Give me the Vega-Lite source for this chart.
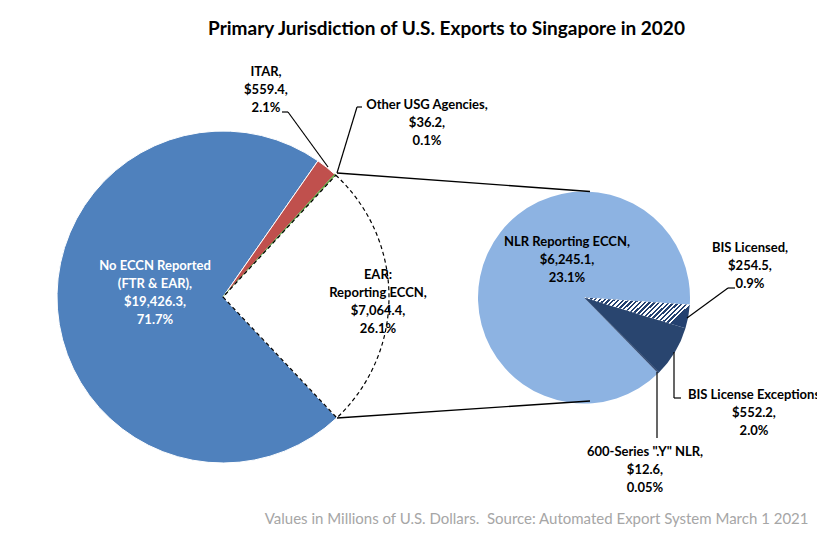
{
  "$schema": "https://vega.github.io/schema/vega-lite/v6.json",
  "width": 817,
  "height": 449,
  "autosize": "none",
  "padding": {"left": 0, "right": 0, "top": 48, "bottom": 40},
  "background": "white",
  "config": {"view": {"stroke": null}, "font": "Lato"},
  "title": {"text": "Primary Jurisdiction of U.S. Exports to Singapore in 2020", "font": "Lato", "fontSize": 19, "fontWeight": "bold", "color": "#000000", "anchor": "middle", "dx": 38, "offset": 9},
  "data": {"values": [
    {"pie": "main", "name": "No ECCN Reported", "value": 19426.3, "k": 1, "label": "No ECCN Reported\n(FTR & EAR),\n$19,426.3,\n71.7%"},
    {"pie": "main", "name": "ITAR", "value": 559.4, "k": 2, "label": "ITAR,\n$559.4,\n2.1%"},
    {"pie": "main", "name": "Other USG Agencies", "value": 36.2, "k": 3, "label": "Other USG Agencies,\n$36.2,\n0.1%"},
    {"pie": "main", "name": "EAR", "value": 7064.4, "k": 4, "breakout": "detail", "label": "EAR:\nReporting ECCN,\n$7,064.4,\n26.1%"},
    {"pie": "detail", "name": "NLR Reporting ECCN", "value": 6245.1, "k": 1, "label": "NLR Reporting ECCN,\n$6,245.1,\n23.1%"},
    {"pie": "detail", "name": "BIS Licensed", "value": 254.5, "k": 2, "label": "BIS Licensed,\n$254.5,\n0.9%"},
    {"pie": "detail", "name": "BIS License Exceptions", "value": 552.2, "k": 3, "label": "BIS License Exceptions\n$552.2,\n2.0%"},
    {"pie": "detail", "name": "600-Series \".Y\" NLR", "value": 12.6, "k": 4, "label": "600-Series \".Y\" NLR,\n$12.6,\n0.05%"}
  ]},
  "transform": [
    {"stack": "value", "groupby": ["pie"], "sort": [{"field": "k", "order": "ascending"}], "offset": "normalize", "as": ["t0", "t1"]}
  ],
  "encoding": {
    "x": {"field": "pie", "type": "nominal", "scale": {"type": "point", "domain": ["main", "detail"], "range": [223, 584], "padding": 0},
      "axis": {"title": "Values in Millions of U.S. Dollars.\u00a0 Source: Automated Export System March 1 2021", "labels": false, "ticks": false, "domain": false, "grid": false, "titleFont": "Lato", "titleFontSize": 15, "titleFontWeight": "normal", "titleColor": "#a6a6a6", "titleAlign": "right", "titleAnchor": "end", "titleX": 808, "titleY": 21, "titleBaseline": "middle"}},
    "y": {"field": "pie", "type": "nominal", "scale": {"type": "point", "domain": ["main", "detail"], "range": [249, 249.5], "padding": 0}, "axis": null}
  },
  "layer": [
    {
      "transform": [{"filter": "datum.pie === 'main' && datum.name !== 'EAR'"}],
      "mark": {"type": "arc", "outerRadius": 166, "strokeWidth": 1},
      "encoding": {
        "theta": {"field": "t0", "type": "quantitative", "scale": {"domain": [0, 1], "range": [2.386, 8.669]}},
        "theta2": {"field": "t1"},
        "color": {"field": "name", "type": "nominal", "legend": null,
          "scale": {"domain": ["No ECCN Reported", "ITAR", "Other USG Agencies", "EAR", "NLR Reporting ECCN", "BIS Licensed", "BIS License Exceptions", "600-Series \".Y\" NLR"],
                    "range": ["#4f81bd", "#c0504d", "#9bbb59", "#ffffff", "#8db3e2", "#ffffff", "#29456f", "#1f3864"]}},
        "stroke": {"condition": {"test": "datum.name === 'Other USG Agencies'", "value": "#4e9a3a"}, "value": "#ffffff"}
      }
    },
    {
      "transform": [{"filter": "datum.name === 'EAR'"}],
      "mark": {"type": "arc", "outerRadius": 166, "fill": "#ffffff", "stroke": "#000000", "strokeWidth": 1.2, "strokeDash": [4, 3]},
      "encoding": {
        "theta": {"field": "t0", "type": "quantitative", "scale": {"domain": [0, 1], "range": [2.386, 8.669]}},
        "theta2": {"field": "t1"}
      }
    },
    {
      "transform": [{"filter": "datum.pie === 'detail'"}],
      "mark": {"type": "arc", "outerRadius": 106},
      "encoding": {
        "theta": {"field": "t0", "type": "quantitative", "scale": {"domain": [0, 1], "range": [2.367, 8.650]}},
        "theta2": {"field": "t1"},
        "color": {"field": "name", "type": "nominal", "legend": null}
      }
    },
    {
      "transform": [{"filter": "datum.name === 'BIS Licensed'"}],
      "mark": {"type": "arc", "outerRadius": 106,
        "fill": {"gradient": "linear", "x1": 0, "y1": 0, "x2": 1, "y2": 0.3, "stops": [
          {"offset": 0, "color": "#ffffff"}, {"offset": 0.0208, "color": "#ffffff"},
          {"offset": 0.0208, "color": "#244170"}, {"offset": 0.0417, "color": "#244170"},
          {"offset": 0.0417, "color": "#ffffff"}, {"offset": 0.0625, "color": "#ffffff"},
          {"offset": 0.0625, "color": "#244170"}, {"offset": 0.0833, "color": "#244170"},
          {"offset": 0.0833, "color": "#ffffff"}, {"offset": 0.1042, "color": "#ffffff"},
          {"offset": 0.1042, "color": "#244170"}, {"offset": 0.125, "color": "#244170"},
          {"offset": 0.125, "color": "#ffffff"}, {"offset": 0.1458, "color": "#ffffff"},
          {"offset": 0.1458, "color": "#244170"}, {"offset": 0.1667, "color": "#244170"},
          {"offset": 0.1667, "color": "#ffffff"}, {"offset": 0.1875, "color": "#ffffff"},
          {"offset": 0.1875, "color": "#244170"}, {"offset": 0.2083, "color": "#244170"},
          {"offset": 0.2083, "color": "#ffffff"}, {"offset": 0.2292, "color": "#ffffff"},
          {"offset": 0.2292, "color": "#244170"}, {"offset": 0.25, "color": "#244170"},
          {"offset": 0.25, "color": "#ffffff"}, {"offset": 0.2708, "color": "#ffffff"},
          {"offset": 0.2708, "color": "#244170"}, {"offset": 0.2917, "color": "#244170"},
          {"offset": 0.2917, "color": "#ffffff"}, {"offset": 0.3125, "color": "#ffffff"},
          {"offset": 0.3125, "color": "#244170"}, {"offset": 0.3333, "color": "#244170"},
          {"offset": 0.3333, "color": "#ffffff"}, {"offset": 0.3542, "color": "#ffffff"},
          {"offset": 0.3542, "color": "#244170"}, {"offset": 0.375, "color": "#244170"},
          {"offset": 0.375, "color": "#ffffff"}, {"offset": 0.3958, "color": "#ffffff"},
          {"offset": 0.3958, "color": "#244170"}, {"offset": 0.4167, "color": "#244170"},
          {"offset": 0.4167, "color": "#ffffff"}, {"offset": 0.4375, "color": "#ffffff"},
          {"offset": 0.4375, "color": "#244170"}, {"offset": 0.4583, "color": "#244170"},
          {"offset": 0.4583, "color": "#ffffff"}, {"offset": 0.4792, "color": "#ffffff"},
          {"offset": 0.4792, "color": "#244170"}, {"offset": 0.5, "color": "#244170"},
          {"offset": 0.5, "color": "#ffffff"}, {"offset": 0.5208, "color": "#ffffff"},
          {"offset": 0.5208, "color": "#244170"}, {"offset": 0.5417, "color": "#244170"},
          {"offset": 0.5417, "color": "#ffffff"}, {"offset": 0.5625, "color": "#ffffff"},
          {"offset": 0.5625, "color": "#244170"}, {"offset": 0.5833, "color": "#244170"},
          {"offset": 0.5833, "color": "#ffffff"}, {"offset": 0.6042, "color": "#ffffff"},
          {"offset": 0.6042, "color": "#244170"}, {"offset": 0.625, "color": "#244170"},
          {"offset": 0.625, "color": "#ffffff"}, {"offset": 0.6458, "color": "#ffffff"},
          {"offset": 0.6458, "color": "#244170"}, {"offset": 0.6667, "color": "#244170"},
          {"offset": 0.6667, "color": "#ffffff"}, {"offset": 0.6875, "color": "#ffffff"},
          {"offset": 0.6875, "color": "#244170"}, {"offset": 0.7083, "color": "#244170"},
          {"offset": 0.7083, "color": "#ffffff"}, {"offset": 0.7292, "color": "#ffffff"},
          {"offset": 0.7292, "color": "#244170"}, {"offset": 0.75, "color": "#244170"},
          {"offset": 0.75, "color": "#ffffff"}, {"offset": 0.7708, "color": "#ffffff"},
          {"offset": 0.7708, "color": "#244170"}, {"offset": 0.7917, "color": "#244170"},
          {"offset": 0.7917, "color": "#ffffff"}, {"offset": 0.8125, "color": "#ffffff"},
          {"offset": 0.8125, "color": "#244170"}, {"offset": 0.8333, "color": "#244170"},
          {"offset": 0.8333, "color": "#ffffff"}, {"offset": 0.8542, "color": "#ffffff"},
          {"offset": 0.8542, "color": "#244170"}, {"offset": 0.875, "color": "#244170"},
          {"offset": 0.875, "color": "#ffffff"}, {"offset": 0.8958, "color": "#ffffff"},
          {"offset": 0.8958, "color": "#244170"}, {"offset": 0.9167, "color": "#244170"},
          {"offset": 0.9167, "color": "#ffffff"}, {"offset": 0.9375, "color": "#ffffff"},
          {"offset": 0.9375, "color": "#244170"}, {"offset": 0.9583, "color": "#244170"},
          {"offset": 0.9583, "color": "#ffffff"}, {"offset": 0.9792, "color": "#ffffff"},
          {"offset": 0.9792, "color": "#244170"}, {"offset": 1, "color": "#244170"}
        ]}},
      "encoding": {
        "theta": {"field": "t0", "type": "quantitative", "scale": {"domain": [0, 1], "range": [2.367, 8.650]}},
        "theta2": {"field": "t1"}
      }
    },
    {
      "transform": [{"filter": "datum.name === 'EAR'"}],
      "mark": {"type": "rule", "color": "#000000", "strokeWidth": 1.3, "xOffset": 114, "yOffset": -124, "x2Offset": 6, "y2Offset": -106},
      "encoding": {"x2": {"field": "breakout"}, "y2": {"field": "breakout"}}
    },
    {
      "transform": [{"filter": "datum.name === 'EAR'"}],
      "mark": {"type": "rule", "color": "#000000", "strokeWidth": 1.3, "xOffset": 114, "yOffset": 121, "x2Offset": 6, "y2Offset": 103.5},
      "encoding": {"x2": {"field": "breakout"}, "y2": {"field": "breakout"}}
    },
    {
      "transform": [{"filter": "datum.name === 'ITAR'"}],
      "mark": {"type": "rule", "color": "#000000", "strokeWidth": 1.2, "xOffset": 59, "yOffset": -185, "x2Offset": 65, "y2Offset": -185},
      "encoding": {"x2": {"field": "pie"}, "y2": {"field": "pie"}}
    },
    {
      "transform": [{"filter": "datum.name === 'ITAR'"}],
      "mark": {"type": "rule", "color": "#000000", "strokeWidth": 1.2, "xOffset": 65, "yOffset": -185, "x2Offset": 105, "y2Offset": -130},
      "encoding": {"x2": {"field": "pie"}, "y2": {"field": "pie"}}
    },
    {
      "transform": [{"filter": "datum.name === 'Other USG Agencies'"}],
      "mark": {"type": "rule", "color": "#000000", "strokeWidth": 1.2, "xOffset": 139, "yOffset": -190, "x2Offset": 134, "y2Offset": -190},
      "encoding": {"x2": {"field": "pie"}, "y2": {"field": "pie"}}
    },
    {
      "transform": [{"filter": "datum.name === 'Other USG Agencies'"}],
      "mark": {"type": "rule", "color": "#000000", "strokeWidth": 1.2, "xOffset": 134, "yOffset": -190, "x2Offset": 114, "y2Offset": -124},
      "encoding": {"x2": {"field": "pie"}, "y2": {"field": "pie"}}
    },
    {
      "transform": [{"filter": "datum.name === 'BIS Licensed'"}],
      "mark": {"type": "rule", "color": "#000000", "strokeWidth": 1.2, "xOffset": 151, "yOffset": -9.5, "x2Offset": 144, "y2Offset": -9.5},
      "encoding": {"x2": {"field": "pie"}, "y2": {"field": "pie"}}
    },
    {
      "transform": [{"filter": "datum.name === 'BIS Licensed'"}],
      "mark": {"type": "rule", "color": "#000000", "strokeWidth": 1.2, "xOffset": 144, "yOffset": -9.5, "x2Offset": 103, "y2Offset": 20.5},
      "encoding": {"x2": {"field": "pie"}, "y2": {"field": "pie"}}
    },
    {
      "transform": [{"filter": "datum.name === 'BIS License Exceptions'"}],
      "mark": {"type": "rule", "color": "#000000", "strokeWidth": 1.2, "xOffset": 90, "yOffset": 54.5, "x2Offset": 90, "y2Offset": 100.5},
      "encoding": {"x2": {"field": "pie"}, "y2": {"field": "pie"}}
    },
    {
      "transform": [{"filter": "datum.name === 'BIS License Exceptions'"}],
      "mark": {"type": "rule", "color": "#000000", "strokeWidth": 1.2, "xOffset": 90, "yOffset": 100.5, "x2Offset": 97, "y2Offset": 100.5},
      "encoding": {"x2": {"field": "pie"}, "y2": {"field": "pie"}}
    },
    {
      "transform": [{"filter": "datum.name === '600-Series \".Y\" NLR'"}],
      "mark": {"type": "rule", "color": "#000000", "strokeWidth": 1.2, "xOffset": 73, "yOffset": 74.5, "x2Offset": 73, "y2Offset": 140.5},
      "encoding": {"x2": {"field": "pie"}, "y2": {"field": "pie"}}
    },
    {
      "transform": [{"filter": "datum.name === 'No ECCN Reported'"}],
      "mark": {"type": "text", "font": "Lato", "fontSize": 13, "fontWeight": "bold", "lineHeight": 18, "lineBreak": "\n", "align": "center", "baseline": "middle", "color": "#ffffff", "dx": -68, "dy": -31},
      "encoding": {"text": {"field": "label"}}
    },
    {
      "transform": [{"filter": "datum.name === 'EAR'"}],
      "mark": {"type": "text", "font": "Lato", "fontSize": 13, "fontWeight": "bold", "lineHeight": 18, "lineBreak": "\n", "align": "center", "baseline": "middle", "color": "#000000", "dx": 155, "dy": -22},
      "encoding": {"text": {"field": "label"}}
    },
    {
      "transform": [{"filter": "datum.name === 'ITAR'"}],
      "mark": {"type": "text", "font": "Lato", "fontSize": 13, "fontWeight": "bold", "lineHeight": 18, "lineBreak": "\n", "align": "center", "baseline": "middle", "color": "#000000", "dx": 43, "dy": -225},
      "encoding": {"text": {"field": "label"}}
    },
    {
      "transform": [{"filter": "datum.name === 'Other USG Agencies'"}],
      "mark": {"type": "text", "font": "Lato", "fontSize": 13, "fontWeight": "bold", "lineHeight": 18, "lineBreak": "\n", "align": "center", "baseline": "middle", "color": "#000000", "dx": 204, "dy": -192},
      "encoding": {"text": {"field": "label"}}
    },
    {
      "transform": [{"filter": "datum.name === 'NLR Reporting ECCN'"}],
      "mark": {"type": "text", "font": "Lato", "fontSize": 13, "fontWeight": "bold", "lineHeight": 18, "lineBreak": "\n", "align": "center", "baseline": "middle", "color": "#000000", "dx": -17, "dy": -56},
      "encoding": {"text": {"field": "label"}}
    },
    {
      "transform": [{"filter": "datum.name === 'BIS Licensed'"}],
      "mark": {"type": "text", "font": "Lato", "fontSize": 13, "fontWeight": "bold", "lineHeight": 18, "lineBreak": "\n", "align": "center", "baseline": "middle", "color": "#000000", "dx": 166, "dy": -49.5},
      "encoding": {"text": {"field": "label"}}
    },
    {
      "transform": [{"filter": "datum.name === 'BIS License Exceptions'"}],
      "mark": {"type": "text", "font": "Lato", "fontSize": 13, "fontWeight": "bold", "lineHeight": 18, "lineBreak": "\n", "align": "center", "baseline": "middle", "color": "#000000", "dx": 170, "dy": 97.5},
      "encoding": {"text": {"field": "label"}}
    },
    {
      "transform": [{"filter": "datum.name === '600-Series \".Y\" NLR'"}],
      "mark": {"type": "text", "font": "Lato", "fontSize": 13, "fontWeight": "bold", "lineHeight": 18, "lineBreak": "\n", "align": "center", "baseline": "middle", "color": "#000000", "dx": 61, "dy": 154},
      "encoding": {"text": {"field": "label"}}
    }
  ],
  "resolve": {"scale": {"theta": "independent"}}
}
